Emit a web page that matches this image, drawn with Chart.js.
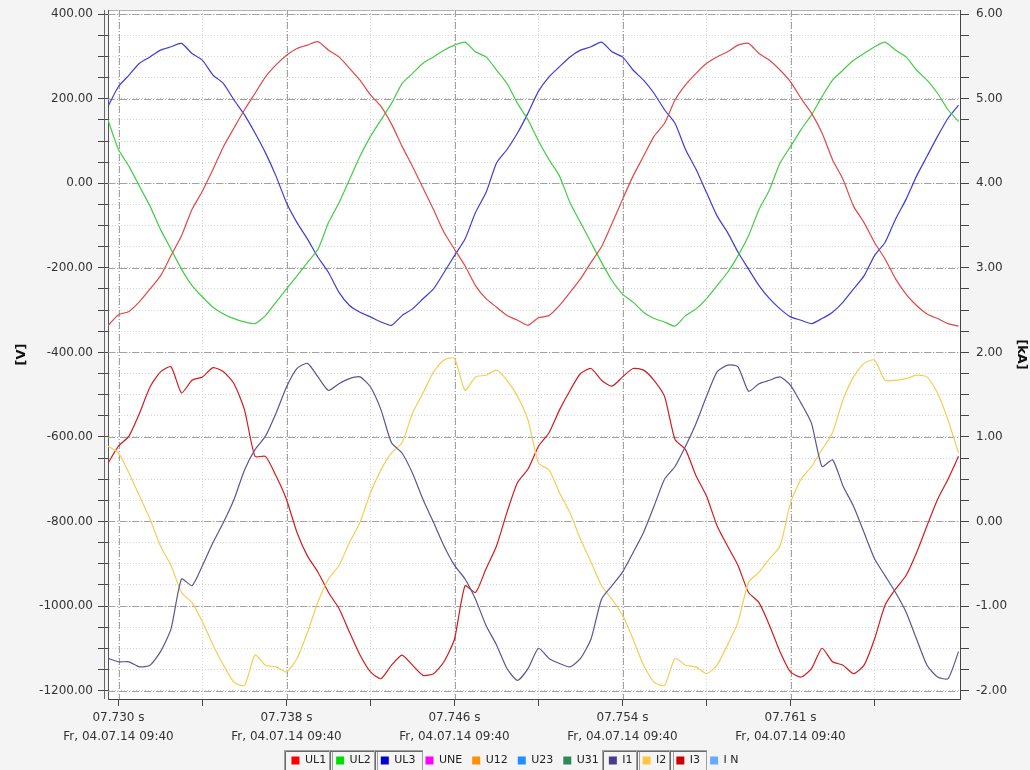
<!DOCTYPE html>
<html>
<head>
<meta charset="utf-8">
<script src="https://cdn.jsdelivr.net/npm/chart.js@4.4.1/dist/chart.umd.min.js"></script>
<style>
  html, body { margin: 0; padding: 0; background: #f4f4f4; }
  #wrap { width: 1030px; height: 770px; position: relative; }
</style>
</head>
<body>
<div id="wrap"><canvas id="scope"></canvas></div>
<script>
// sample times, ms after 07.730 s
const timeMs = [-0.5, 0, 0.5, 1, 1.5, 2, 2.5, 3, 3.5, 4, 4.5, 5, 5.5, 6, 6.5, 7, 7.5, 8, 8.5, 9, 9.5,
  10, 10.5, 11, 11.5, 12, 12.5, 13, 13.5, 14, 14.5, 15, 15.5, 16, 16.5, 17, 17.5, 18, 18.5, 19, 19.5,
  20, 20.5, 21, 21.5, 22, 22.5, 23, 23.5, 24, 24.5, 25, 25.5, 26, 26.5, 27, 27.5, 28, 28.5, 29, 29.5,
  30, 30.5, 31, 31.5, 32, 32.5, 33, 33.5, 34, 34.5, 35, 35.5, 36, 36.5, 37, 37.5, 38, 38.5, 39, 39.5, 40];

// voltages [V]
const ul1 = [-337, -311, -303, -280, -250, -219, -171, -124, -62, -18, 33, 87, 131, 174, 213, 252, 280, 303, 319, 327, 335,
  315, 299, 272, 244, 209, 182, 140, 88, 40, -11, -62, -116, -156, -195, -242, -273, -293, -313, -324, -336,
  -318, -313, -289, -258, -226, -187, -150, -95, -38, 17, 64, 111, 142, 197, 233, 260, 284, 299, 311, 327,
  331, 307, 291, 268, 240, 201, 166, 119, 56, 9, -54, -93, -140, -179, -226, -262, -289, -309, -320, -332, -338];
const ul2 = [150, 80, 40, -7, -54, -109, -156, -203, -242, -269, -293, -309, -320, -328, -332, -313, -281, -250, -219, -187, -156,
  -93, -46, 9, 64, 111, 150, 189, 236, 260, 284, 299, 315, 327, 334, 311, 299, 268, 236, 189, 150,
  100, 56, 17, -46, -93, -140, -187, -230, -262, -281, -305, -320, -328, -338, -313, -297, -273, -242, -211, -171,
  -124, -62, -15, 48, 87, 127, 162, 205, 244, 268, 291, 307, 323, 334, 315, 299, 268, 244, 213, 174, 146];
const ul3 = [182, 229, 256, 284, 299, 315, 323, 331, 307, 291, 256, 236, 197, 162, 119, 72, 17, -46, -93, -132, -175,
  -211, -258, -289, -305, -316, -328, -336, -313, -297, -273, -250, -211, -171, -132, -69, -22, 48, 80, 119, 166,
  218, 252, 276, 299, 315, 323, 334, 311, 299, 268, 244, 213, 174, 142, 80, 33, -22, -77, -116, -163,
  -203, -242, -273, -297, -316, -324, -332, -320, -305, -281, -250, -219, -171, -140, -85, -38, 17, 64, 111, 154, 185];

// currents [kA]
const i1 = [-1.62, -1.66, -1.66, -1.72, -1.70, -1.54, -1.27, -0.68, -0.76, -0.52, -0.25, -0.01, 0.26, 0.61, 0.85, 1.01, 1.28, 1.59, 1.81, 1.87, 1.71,
  1.55, 1.63, 1.69, 1.71, 1.59, 1.32, 0.93, 0.81, 0.57, 0.26, -0.01, -0.29, -0.52, -0.68, -0.92, -1.23, -1.46, -1.74, -1.88, -1.74,
  -1.50, -1.62, -1.68, -1.72, -1.62, -1.39, -0.92, -0.76, -0.60, -0.37, -0.13, 0.18, 0.50, 0.65, 0.89, 1.16, 1.48, 1.77, 1.85, 1.83,
  1.54, 1.63, 1.67, 1.71, 1.61, 1.40, 1.16, 0.65, 0.73, 0.42, 0.18, -0.13, -0.44, -0.64, -0.84, -1.07, -1.39, -1.70, -1.84, -1.86, -1.54];
const i2 = [0.89, 0.81, 0.57, 0.30, 0.03, -0.29, -0.52, -0.84, -0.96, -1.19, -1.46, -1.70, -1.90, -1.94, -1.58, -1.70, -1.72, -1.78, -1.62, -1.31, -0.95,
  -0.68, -0.52, -0.25, -0.01, 0.34, 0.61, 0.81, 0.93, 1.28, 1.52, 1.77, 1.91, 1.93, 1.55, 1.71, 1.73, 1.79, 1.67, 1.48, 1.20,
  0.69, 0.61, 0.34, 0.10, -0.21, -0.48, -0.76, -0.92, -1.11, -1.39, -1.70, -1.90, -1.94, -1.62, -1.70, -1.72, -1.80, -1.70, -1.46, -1.19,
  -0.72, -0.60, -0.44, -0.29, 0.22, 0.50, 0.65, 0.85, 1.05, 1.44, 1.71, 1.87, 1.91, 1.67, 1.67, 1.69, 1.73, 1.71, 1.52, 1.20, 0.81];
const i3 = [0.69, 0.89, 1.01, 1.28, 1.59, 1.77, 1.83, 1.52, 1.67, 1.71, 1.82, 1.77, 1.63, 1.32, 0.77, 0.77, 0.54, 0.26, -0.13, -0.41, -0.60,
  -0.84, -1.03, -1.31, -1.58, -1.78, -1.86, -1.70, -1.58, -1.70, -1.82, -1.80, -1.66, -1.39, -0.76, -0.84, -0.56, -0.29, 0.11, 0.46, 0.62,
  0.89, 1.05, 1.32, 1.55, 1.75, 1.81, 1.67, 1.60, 1.71, 1.81, 1.79, 1.67, 1.48, 0.97, 0.85, 0.54, 0.30, -0.05, -0.29, -0.52,
  -0.84, -0.96, -1.23, -1.54, -1.78, -1.84, -1.74, -1.50, -1.66, -1.70, -1.80, -1.70, -1.39, -0.99, -0.80, -0.64, -0.37, -0.05, 0.26, 0.50, 0.77];

// axis ticks
const xTickTimes = [0, 4, 8, 12, 16, 20, 24, 28, 32, 36];
const xLabelTimes = [0, 8, 16, 24, 32];
const xLabelText = ["07.730 s", "07.738 s", "07.746 s", "07.754 s", "07.761 s"];
const xDateText = "Fr, 04.07.14 09:40";
const voltLabels = [-1200, -1000, -800, -600, -400, -200, 0, 200, 400];
const ampLabels = [-2, -1, 0, 1, 2, 3, 4, 5, 6];

const FONT = "'DejaVu Sans', Verdana, sans-serif";
Chart.defaults.font.family = FONT;

function pts(vals) {
  return vals.map((v, i) => ({ x: timeMs[i], y: v }));
}
function steps(from, to, step) {
  const out = [];
  for (let v = from; v <= to + 1e-9; v += step) out.push(Math.round(v * 1000) / 1000);
  return out;
}

const series = [
  { name: "UL1", values: ul1, line: "#e04848", key: "#ff0000", axis: "yV", framed: true },
  { name: "UL2", values: ul2, line: "#45cc45", key: "#00dd00", axis: "yV", framed: true },
  { name: "UL3", values: ul3, line: "#3d3dd2", key: "#0000d0", axis: "yV", framed: true },
  { name: "UNE", values: [], line: "#ff00ff", key: "#ff00ff", axis: "yV", framed: false },
  { name: "U12", values: [], line: "#ff9000", key: "#ff9000", axis: "yV", framed: false },
  { name: "U23", values: [], line: "#1e90ff", key: "#1e90ff", axis: "yV", framed: false },
  { name: "U31", values: [], line: "#2e8b57", key: "#2e8b57", axis: "yV", framed: false },
  { name: "I1", values: i1, line: "#5a5694", key: "#483d8b", axis: "yA", framed: true },
  { name: "I2", values: i2, line: "#f6cc55", key: "#ffc83c", axis: "yA", framed: true },
  { name: "I3", values: i3, line: "#d21c1c", key: "#cc0000", axis: "yA", framed: true },
  { name: "I N", values: [], line: "#66aaff", key: "#66aaff", axis: "yA", framed: false }
];

// white plot area, dash-dot major grid, double left axis line, legend frames
const scopeDecor = {
  id: "scopeDecor",
  beforeDraw(chart) {
    const { ctx, chartArea: a } = chart;
    ctx.save();
    ctx.fillStyle = "#ffffff";
    ctx.fillRect(a.left, a.top, a.right - a.left, a.bottom - a.top);
    ctx.strokeStyle = "#b0b0b0";
    ctx.lineWidth = 1;
    ctx.beginPath();
    ctx.moveTo(a.left, a.top + 0.5);
    ctx.lineTo(a.right, a.top + 0.5);
    ctx.stroke();
    ctx.restore();
  },
  beforeDatasetsDraw(chart) {
    const { ctx, chartArea: a, scales } = chart;
    ctx.save();
    ctx.strokeStyle = "#a2a2a2";
    ctx.lineWidth = 1;
    ctx.setLineDash([7, 2, 1, 2]);
    voltLabels.forEach(v => {
      const y = Math.round(scales.yV.getPixelForValue(v)) + 0.5;
      ctx.beginPath(); ctx.moveTo(a.left, y); ctx.lineTo(a.right, y); ctx.stroke();
    });
    xLabelTimes.forEach(t => {
      const x = Math.round(scales.x.getPixelForValue(t)) + 0.5;
      ctx.beginPath(); ctx.moveTo(x, a.top); ctx.lineTo(x, a.bottom); ctx.stroke();
    });
    ctx.setLineDash([]);
    ctx.strokeStyle = "#666";
    ctx.beginPath();
    ctx.moveTo(a.left - 3.5, a.top);
    ctx.lineTo(a.left - 3.5, a.bottom);
    ctx.stroke();
    ctx.restore();
  },
  afterDraw(chart) {
    const lg = chart.legend;
    if (!lg || !lg.legendHitBoxes) return;
    const ctx = chart.ctx;
    ctx.save();
    lg.legendHitBoxes.forEach((b, i) => {
      if (!series[i].framed) return;
      const x = Math.round(b.left - 7) + 0.5, y = Math.round(b.top - 5) + 0.5;
      const w = Math.round(b.width + 13), h = Math.round(b.height + 12);
      ctx.strokeStyle = "#a0a0a0";
      ctx.lineWidth = 1;
      ctx.strokeRect(x, y, w, h);
      ctx.strokeStyle = "#6a6a6a";
      ctx.beginPath();
      ctx.moveTo(x + 1, y + h); ctx.lineTo(x + 1, y + 1); ctx.lineTo(x + w, y + 1);
      ctx.stroke();
    });
    ctx.restore();
  }
};

new Chart(document.getElementById("scope"), {
  type: "line",
  data: {
    datasets: series.map(s => ({
      label: s.name,
      data: pts(s.values),
      yAxisID: s.axis,
      borderColor: s.line,
      backgroundColor: s.key,
      keyColor: s.key,
      borderWidth: 1.2,
      pointRadius: 0,
      tension: 0.2,
      fill: false
    }))
  },
  options: {
    responsive: true,
    maintainAspectRatio: false,
    animation: false,
    events: [],
    layout: { padding: { top: 3, left: 0, right: 0, bottom: -6 } },
    plugins: {
      tooltip: { enabled: false },
      legend: {
        position: "bottom",
        labels: {
          boxWidth: 8,
          boxHeight: 8,
          padding: 10,
          color: "#222",
          font: { size: 11 },
          generateLabels(chart) {
            return chart.data.datasets.map((ds, i) => ({
              text: ds.label,
              fillStyle: ds.keyColor,
              strokeStyle: ds.keyColor,
              lineWidth: 0,
              hidden: false,
              datasetIndex: i,
              fontColor: "#222"
            }));
          }
        }
      }
    },
    scales: {
      x: {
        type: "linear",
        min: -0.5,
        max: 40.07,
        afterBuildTicks(scale) { scale.ticks = xTickTimes.map(v => ({ value: v })); },
        afterFit(scale) { scale.height = 46; },
        ticks: {
          autoSkip: false,
          maxRotation: 0,
          padding: 3,
          color: "#333",
          font: { size: 12, lineHeight: 1.55 },
          callback(v) {
            const i = xLabelTimes.indexOf(v);
            return i < 0 ? "" : [xLabelText[i], xDateText];
          }
        },
        grid: { color: "#d6d6d6", tickColor: "#444", tickLength: 7 },
        border: { color: "#444", dash: [1, 2] }
      },
      yV: {
        position: "left",
        min: -1220,
        max: 410,
        afterBuildTicks(scale) { scale.ticks = steps(-1200, 400, 50).map(v => ({ value: v })); },
        afterFit(scale) { scale.width = 108; },
        ticks: {
          padding: 5,
          color: "#333",
          font: { size: 12, lineHeight: 0.5 },
          callback(v) { return voltLabels.includes(v) ? v.toFixed(2) : ""; }
        },
        grid: { color: "#d6d6d6", tickColor: "#444", tickLength: 10 },
        border: { color: "#555", width: 1, dash: [1, 2] },
        title: {
          display: true,
          text: "[V]",
          color: "#111",
          font: { size: 13, weight: "bold" },
          padding: { top: 14, bottom: 0 }
        }
      },
      yA: {
        position: "right",
        min: -2.1,
        max: 6.05,
        afterBuildTicks(scale) { scale.ticks = steps(-2, 6, 0.25).map(v => ({ value: v })); },
        afterFit(scale) { scale.width = 70; },
        ticks: {
          padding: 7,
          color: "#333",
          font: { size: 12, lineHeight: 0.5 },
          callback(v) { return ampLabels.includes(v) ? v.toFixed(2) : ""; }
        },
        grid: { drawOnChartArea: false, tickColor: "#444", tickLength: 9 },
        border: { color: "#444", width: 1 },
        title: {
          display: true,
          text: "[kA]",
          color: "#111",
          font: { size: 13, weight: "bold" },
          padding: { top: 1, bottom: 0 }
        }
      }
    }
  },
  plugins: [scopeDecor]
});
</script>
</body>
</html>
